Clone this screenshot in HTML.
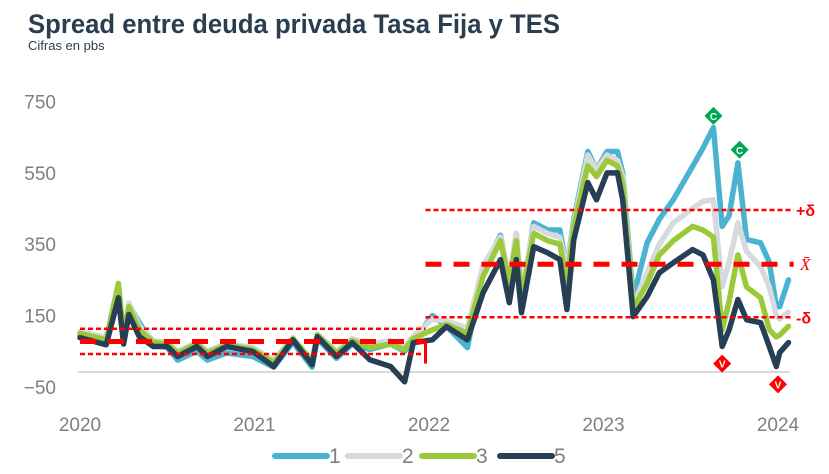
<!DOCTYPE html>
<html><head><meta charset="utf-8">
<style>
body{margin:0;background:#fff;}
svg{display:block;font-family:"Liberation Sans",sans-serif;}
</style></head>
<body>
<svg id="chart" width="829" height="474" viewBox="0 0 829 474">
<text x="28" y="33" font-size="27" font-weight="bold" fill="#2b3e50" textLength="532" lengthAdjust="spacingAndGlyphs">Spread entre deuda privada Tasa Fija y TES</text>
<text x="28" y="50" font-size="13" fill="#2b3e50">Cifras en pbs</text>
<g id="yaxis"></g>
<g id="xaxis"></g>
<line x1="78" x2="790" y1="372" y2="372" stroke="#d9d9d9" stroke-width="2"/>
<g id="series"></g>
<g id="bands"></g>
<g id="markers"></g>
<g id="legend"></g>
</svg>
<script>
const times=[2020.00,2020.15,2020.22,2020.25,2020.28,2020.34,2020.42,2020.50,2020.56,2020.67,2020.73,2020.84,2020.99,2021.11,2021.22,2021.33,2021.36,2021.47,2021.56,2021.66,2021.78,2021.86,2021.91,2022.02,2022.10,2022.22,2022.31,2022.41,2022.46,2022.50,2022.53,2022.60,2022.68,2022.75,2022.79,2022.83,2022.91,2022.96,2023.02,2023.08,2023.11,2023.17,2023.25,2023.32,2023.40,2023.51,2023.57,2023.63,2023.68,2023.72,2023.77,2023.82,2023.90,2023.95,2023.99,2024.01,2024.06];
const s1=[95,80,220,90,180,130,70,60,25,50,25,45,35,5,75,5,85,30,70,55,70,50,80,150,120,60,280,375,250,380,200,410,390,390,280,420,610,560,610,610,550,200,354,420,475,568,620,677,400,430,578,363,354,300,175,175,250];
const s2=[105,88,235,95,185,120,80,75,50,75,50,72,60,25,88,25,98,50,85,70,80,65,92,140,135,115,290,370,260,380,220,400,380,370,280,410,600,560,600,585,540,180,270,350,410,450,470,475,231,300,410,330,287,230,150,140,160];
const s3=[100,82,240,90,175,110,75,70,45,70,45,68,55,18,85,20,95,45,80,60,70,55,85,110,125,100,260,360,240,360,200,380,360,350,240,400,570,540,585,570,520,170,240,320,360,400,390,370,110,190,320,230,200,110,90,95,120];
const s5=[88,68,200,70,153,91,63,63,35,63,35,63,49,7,82,12,91,35,74,26,7,-36,74,82,119,82,214,307,186,307,158,343,326,307,167,363,523,475,550,550,475,147,203,270,298,335,320,250,63,110,195,138,130,63,7,46,74];
const seriesNames=["1","2","3","5"];
const seriesColors=["#4bb3d2","#d7dadd","#9bc93a","#263f54"];
const yTicks=[750,550,350,150,-50];
const xTicks=[2020,2021,2022,2023,2024];
const bandPeriods=[[2020.0,2021.98],[2021.98,2024.09]];
const bandMean=[77,294];
const bandUpper=[113,446];
const bandLower=[42,145];
const buySignals=[[2023.63,710],[2023.78,615]];
const sellSignals=[[2023.68,15],[2024.0,-43]];

const X=t=>80+(t-2020)*174.5;
const Y=v=>369-v*71.3/200;
const NS="http://www.w3.org/2000/svg";
function mk(tag,attrs,parent,text){const e=document.createElementNS(NS,tag);for(const k in attrs)e.setAttribute(k,attrs[k]);if(text!==undefined)e.textContent=text;parent.appendChild(e);return e;}
const yg=document.getElementById('yaxis');
yTicks.forEach(v=>{const t=mk('text',{x:56,y:Y(v)+7,'font-size':19,fill:'#7f7f7f','text-anchor':'end'},yg,String(v).replace('-','\u2212'));

});
const xg=document.getElementById('xaxis');
xTicks.forEach(v=>{const t=mk('text',{x:X(v),y:431,'font-size':19,fill:'#7f7f7f','text-anchor':'middle'},xg,String(v));

});
const sg=document.getElementById('series');
[s1,s2,s3,s5].forEach((arr,i)=>{const pts=arr.map((v,j)=>X(times[j]).toFixed(1)+','+Y(v).toFixed(1)).join(' ');
const p=mk('polyline',{points:pts,fill:'none',stroke:seriesColors[i],'stroke-width':5.5,'stroke-linejoin':'round','stroke-linecap':'round'},sg);

});
const bg=document.getElementById('bands');
bandPeriods.forEach((pr,i)=>{const x1=X(pr[0]),x2=X(pr[1]);
[[bandUpper[i],'5,3',2.5,'upper'],[bandMean[i],'16,12',5,'mean'],[bandLower[i],'5,3',2.5,'lower']].forEach(b=>{
const l=mk('line',{x1:x1,x2:x2,y1:Y(b[0]),y2:Y(b[0]),stroke:'#ff0000','stroke-width':b[2],'stroke-dasharray':b[1]},bg);

});});
const lx=X(bandPeriods[1][0]);
const vl=mk('line',{x1:lx,x2:lx,y1:Y(bandMean[0]),y2:Y(bandMean[0])+22,stroke:'#ff0000','stroke-width':3},bg);


[['+δ',bandUpper[1],'band-upper-label'],['X̄',bandMean[1],'band-mean-label'],['-δ',bandLower[1],'band-lower-label']].forEach((b,i)=>{
const t=mk('text',{x:i==1?800:796,y:Y(b[1])+6,'font-size':i==1?17:16,'font-weight':i==1?'normal':'bold','font-style':i==1?'italic':'normal','font-family':i==1?'Liberation Serif,serif':'Liberation Sans,sans-serif',fill:'#ff0000'},bg,b[0]);

});
const mg=document.getElementById('markers');
function diamond(t,v,col,ch,name){const cx=X(t),cy=Y(v);
const g=mk('g',{},mg);


mk('polygon',{points:`${cx},${cy-9} ${cx+9},${cy} ${cx},${cy+9} ${cx-9},${cy}`,fill:col},g);
mk('text',{x:cx,y:cy+4,'font-size':10,'font-weight':'bold',fill:'#fff','text-anchor':'middle'},g,ch);}
buySignals.forEach(s=>diamond(s[0],s[1],'#00a650','C','buy-signal-marker'));
sellSignals.forEach(s=>diamond(s[0],s[1],'#ff0000','V','sell-signal-marker'));
const lg=document.getElementById('legend');
const lpos=[272,345,419,497];
seriesNames.forEach((n,i)=>{const g=mk('g',{},lg);


mk('line',{x1:lpos[i]+3,x2:lpos[i]+55,y1:456,y2:456,stroke:seriesColors[i],'stroke-width':6,'stroke-linecap':'round'},g);
mk('text',{x:lpos[i]+57,y:463,'font-size':21,fill:'#7f7f7f'},g,n);});
</script>
</body></html>
